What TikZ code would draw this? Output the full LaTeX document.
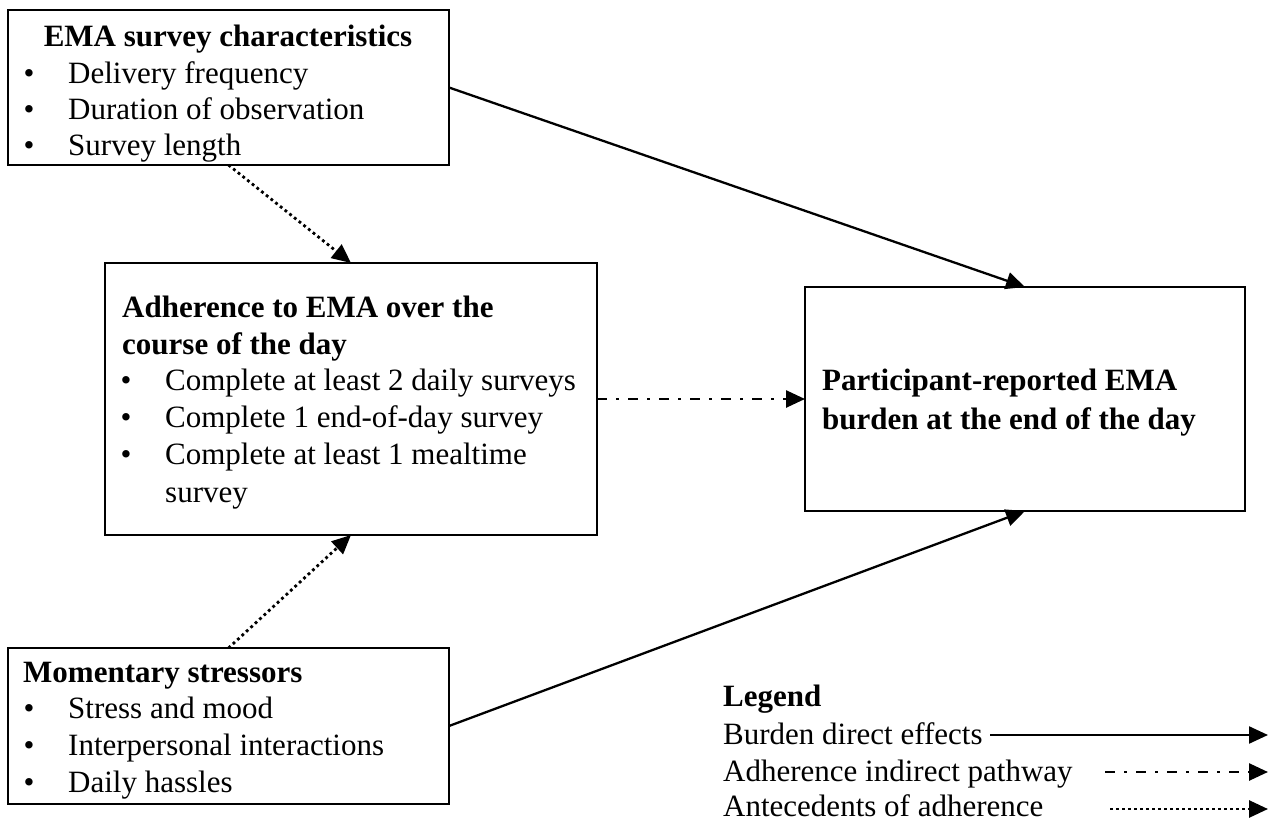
\documentclass[tikz,border=0pt]{standalone}
\usepackage{fontspec}
\setmainfont{Liberation Serif}
\usetikzlibrary{arrows.meta}
\begin{document}
\begin{tikzpicture}[x=1pt,y=-1pt,
  box/.style={draw, line width=1.6pt, inner sep=0pt, outer sep=0pt},
  txt/.style={anchor=base west, inner sep=0pt, font=\fontsize{31}{36}\selectfont},
  head/.style={anchor=base west, inner sep=0pt, font=\fontsize{31}{36}\selectfont\bfseries},
  bul/.style={anchor=base, inner sep=0pt, font=\fontsize{31}{36}\selectfont},
  direct/.style={line width=2.3pt, -{Triangle[length=19pt,width=17pt]}},
  indirect/.style={direct, line width=2.6pt, dash pattern=on 10pt off 9pt on 3pt off 9pt},
  ante/.style={direct, line width=2.8pt, dash pattern=on 2.8pt off 3.2pt},
]
\useasboundingbox (0,0) rectangle (1272,821);
\fill[white] (0,0) rectangle (1272,821);

% boxes
\node[box, minimum width=441pt, minimum height=155pt] (ema) at (228.5,87.5) {};
\node[box, minimum width=492pt, minimum height=272pt] (adh) at (351,399) {};
\node[box, minimum width=440pt, minimum height=224pt] (bur) at (1025,399) {};
\node[box, minimum width=441pt, minimum height=156pt] (mom) at (228.5,726) {};

% EMA box text
\node[head, anchor=base] (emah) at (228,47) {EMA survey characteristics};
\node[bul] (emab1) at (29,84) {•};
\node[txt] (emat1) at (68,84) {Delivery frequency};
\node[bul] (emab2) at (29,120) {•};
\node[txt] (emat2) at (68,120) {Duration of observation};
\node[bul] (emab3) at (29,156) {•};
\node[txt] (emat3) at (68,156) {Survey length};

% Adherence box text
\node[head] (adhh1) at (122,317) {Adherence to EMA over the};
\node[head] (adhh2) at (122,354) {course of the day};
\node[bul] (adhb1) at (126,390) {•};
\node[txt] (adht1) at (165,390) {Complete at least 2 daily surveys};
\node[bul] (adhb2) at (126,427) {•};
\node[txt] (adht2) at (165,427) {Complete 1 end-of-day survey};
\node[bul] (adhb3) at (126,464) {•};
\node[txt] (adht3) at (165,464) {Complete at least 1 mealtime};
\node[txt] (adht4) at (165,502) {survey};

% Burden box text
\node[head] (burh1) at (822,390) {Participant-reported EMA};
\node[head] (burh2) at (822,429) {burden at the end of the day};

% Momentary box text
\node[head] (momh) at (23,682) {Momentary stressors};
\node[bul] (momb1) at (29,718) {•};
\node[txt] (momt1) at (68,718) {Stress and mood};
\node[bul] (momb2) at (29,755) {•};
\node[txt] (momt2) at (68,755) {Interpersonal interactions};
\node[bul] (momb3) at (29,792) {•};
\node[txt] (momt3) at (68,792) {Daily hassles};

% connectors
\draw[direct] (ema.east) -- (bur.north);
\draw[direct] (mom.east) -- (bur.south);
\draw[indirect] (adh.east) -- (bur.west);
\draw[ante] (ema.south) -- (adh.north);
\draw[ante] (mom.north) -- (adh.south);

% legend
\node[head] (legh) at (723,706) {Legend};
\node[txt] (leg1) at (723,744) {Burden direct effects};
\node[txt] (leg2) at (723,781) {Adherence indirect pathway};
\node[txt] (leg3) at (723,816) {Antecedents of adherence};
\coordinate (l1s) at (990,735);
\coordinate (l1e) at (1268,735);
\coordinate (l2s) at (1105,772);
\coordinate (l2e) at (1268,772);
\coordinate (l3s) at (1110,809);
\coordinate (l3e) at (1268,809);
\draw[direct] (l1s) -- (l1e);
\draw[indirect] (l2s) -- (l2e);
\draw[ante] (l3s) -- (l3e);
\end{tikzpicture}
\end{document}
